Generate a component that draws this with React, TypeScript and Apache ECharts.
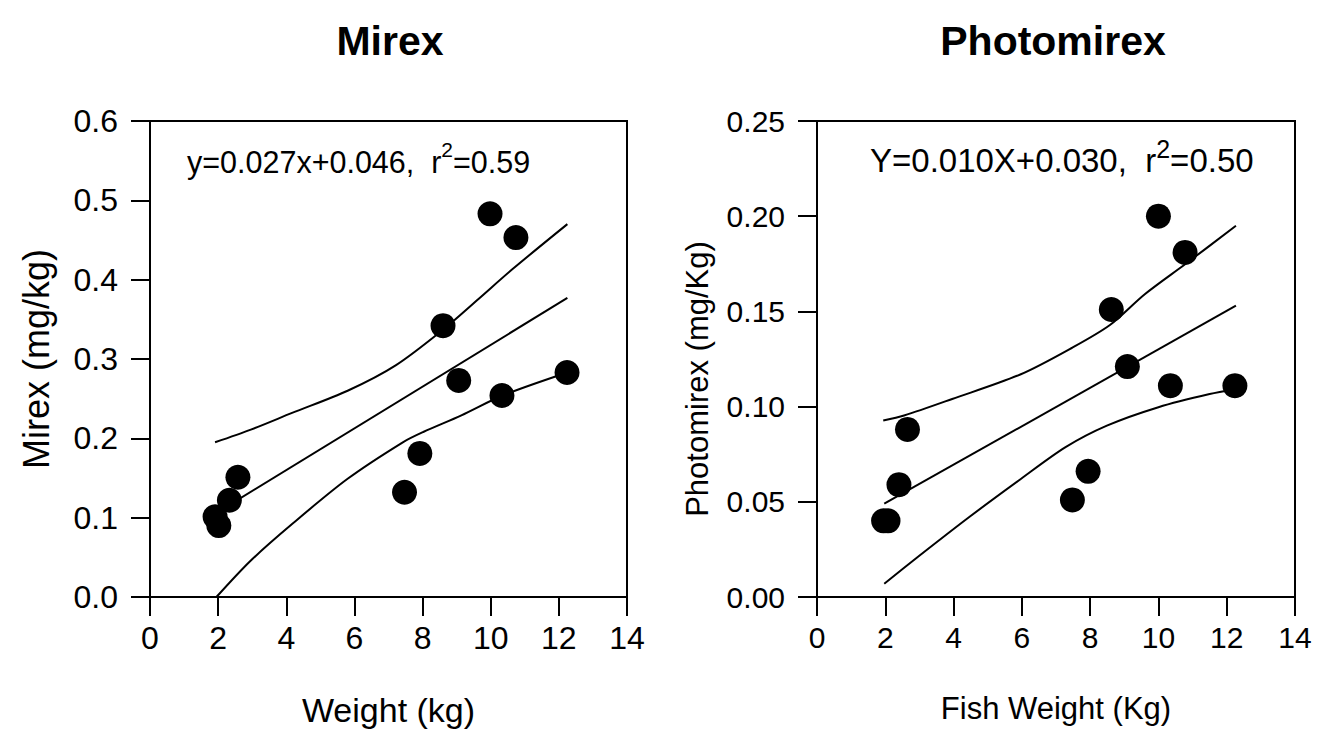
import React, { useEffect, useRef } from "react";
import * as echarts from "echarts";

// ---- Data ----
const mirexWeight = [9.98, 10.74, 8.6, 9.06, 10.33, 12.24, 7.92, 7.47, 2.58, 2.33, 1.91, 2.02];
const mirexConc = [0.483, 0.453, 0.342, 0.273, 0.254, 0.283, 0.181, 0.132, 0.151, 0.122, 0.101, 0.09];

const photoWeight = [10.0, 10.78, 8.62, 9.09, 10.35, 12.24, 7.94, 7.48, 2.65, 2.4, 1.95, 2.08];
const photoConc = [0.2, 0.181, 0.151, 0.121, 0.111, 0.111, 0.066, 0.051, 0.088, 0.059, 0.04, 0.04];

const mirexFit = [[1.91, 0.105], [12.25, 0.377]];
const mirexUpper = [[1.91, 0.195], [2.96, 0.211], [4.17, 0.232], [5.8, 0.26], [7.21, 0.292], [8.63, 0.338], [9.65, 0.376], [10.66, 0.414], [12.25, 0.47]];
const mirexLower = [[1.95, 0.0], [2.96, 0.046], [4.17, 0.092], [5.8, 0.149], [7.42, 0.195], [8.02, 0.208], [9.14, 0.229], [10.35, 0.254], [12.25, 0.283]];

const photoFit = [[1.97, 0.049], [12.27, 0.153]];
const photoUpper = [[1.94, 0.0927], [2.55, 0.0953], [3.96, 0.104], [5.97, 0.117], [7.48, 0.131], [8.59, 0.143], [9.6, 0.159], [10.8, 0.175], [12.27, 0.195]];
const photoLower = [[1.97, 0.007], [2.95, 0.021], [4.46, 0.042], [5.97, 0.062], [7.28, 0.0787], [8.49, 0.09], [10.0, 0.0997], [11.5, 0.1066], [12.24, 0.109]];

const titles = ["Mirex", "Photomirex"];
const xNames = ["Weight (kg)", "Fish Weight (Kg)"];
const yNames = ["Mirex (mg/kg)", "Photomirex (mg/Kg)"];
const equations = [
  ["y=0.027x+0.046,  r", "=0.59"],
  ["Y=0.010X+0.030,  r", "=0.50"],
];

const FONT = "Liberation Sans, Arial, sans-serif";

export default function App() {
  const ref = useRef<HTMLDivElement>(null);
  useEffect(() => {
    document.body.style.margin = "0";
    const chart = echarts.init(ref.current!, null, { renderer: "svg" });
    const zip = (a: number[], b: number[]) => a.map((v, i) => [v, b[i]]);
    const xNameSize = [34, 31];
    const yNameSize = [36, 31];
    const labelSize = [32, 30];
    const axisCommon = {
      axisLine: { show: true, lineStyle: { color: "#000", width: 2 } },
      axisTick: { show: true, inside: false, length: 19, lineStyle: { color: "#000", width: 2 } },
      splitLine: { show: false },
      nameLocation: "middle",
    };
    const xAxis = [0, 1].map((i) => ({
      ...axisCommon,
      type: "value",
      gridIndex: i,
      min: 0,
      max: 14,
      interval: 2,
      name: xNames[i],
      nameGap: 96,
      nameTextStyle: { color: "#000", fontSize: xNameSize[i], fontFamily: FONT },
      axisLabel: { color: "#000", fontSize: labelSize[i], fontFamily: FONT, margin: 25 },
    }));
    const yAxis = [0, 1].map((i) => ({
      ...axisCommon,
      type: "value",
      gridIndex: i,
      min: 0,
      max: i === 0 ? 0.6 : 0.25,
      interval: i === 0 ? 0.1 : 0.05,
      name: yNames[i],
      nameGap: i === 0 ? 96 : 104,
      nameTextStyle: {
        color: "#000",
        fontSize: yNameSize[i],
        fontFamily: FONT,
        padding: i === 0 ? 0 : [0, 40, 0, 0],
      },
      axisLabel: {
        color: "#000",
        fontSize: labelSize[i],
        fontFamily: FONT,
        margin: 32,
        formatter: (v: number) => v.toFixed(i === 0 ? 1 : 2),
      },
    }));
    const lineS = (data: number[][], idx: number, smooth: boolean | number) => ({
      type: "line",
      xAxisIndex: idx,
      yAxisIndex: idx,
      data,
      smooth,
      showSymbol: false,
      symbol: "none",
      lineStyle: { color: "#000", width: 2 },
      z: 2,
    });
    const scatterS = (data: number[][], idx: number) => ({
      type: "scatter",
      xAxisIndex: idx,
      yAxisIndex: idx,
      data,
      symbol: "circle",
      symbolSize: 25,
      itemStyle: { color: "#000", opacity: 1 },
      z: 3,
    });
    const eqText = (i: number, x: number, y: number, fs: number, sfs: number) => ({
      type: "text",
      left: x,
      top: y,
      style: {
        text: `{m|${equations[i][0]}}{s|2}{m|${equations[i][1]}}`,
        rich: {
          m: { fontSize: fs, fontFamily: FONT, fill: "#000", color: "#000", lineHeight: fs + 8, verticalAlign: "bottom" },
          s: { fontSize: sfs, fontFamily: FONT, fill: "#000", color: "#000", lineHeight: fs + 8, verticalAlign: "top" },
        },
      },
    });
    chart.setOption({
      animation: false,
      backgroundColor: "#fff",
      title: [0, 1].map((i) => ({
        text: titles[i],
        left: i === 0 ? 385 : 1048,
        textAlign: "center",
        top: 15,
        textStyle: { fontSize: 41, fontWeight: "bold", fontFamily: FONT, color: "#000" },
      })),
      grid: [
        { left: 150, top: 121, width: 477, height: 476, show: true, borderColor: "#000", borderWidth: 2, backgroundColor: "transparent" },
        { left: 817, top: 121, width: 478, height: 476, show: true, borderColor: "#000", borderWidth: 2, backgroundColor: "transparent" },
      ],
      xAxis,
      yAxis,
      series: [
        scatterS(zip(mirexWeight, mirexConc), 0),
        lineS(mirexFit, 0, false),
        lineS(mirexUpper, 0, 0.3),
        lineS(mirexLower, 0, 0.3),
        scatterS(zip(photoWeight, photoConc), 1),
        lineS(photoFit, 1, false),
        lineS(photoUpper, 1, 0.3),
        lineS(photoLower, 1, 0.3),
      ],
      graphic: [eqText(0, 187, 139, 30.5, 21), eqText(1, 870, 136, 33, 25)],
    });
    return () => chart.dispose();
  }, []);
  return <div ref={ref} style={{ width: 1321, height: 748 }} />;
}
